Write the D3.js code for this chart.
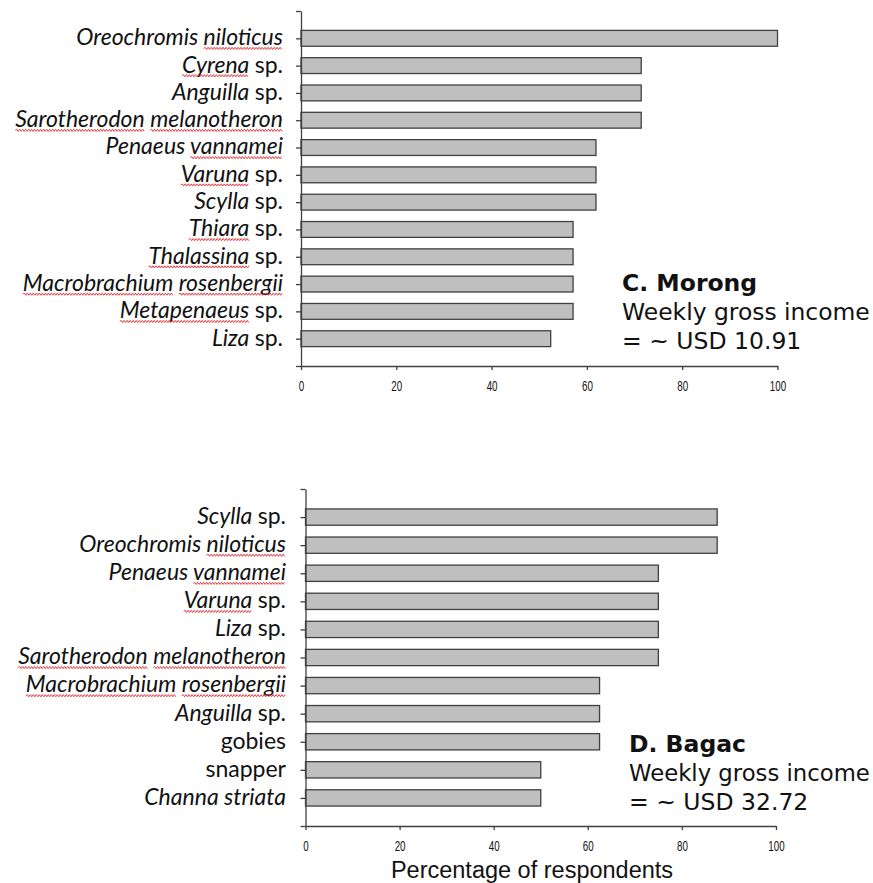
<!DOCTYPE html>
<html>
<head>
<meta charset="utf-8">
<script src="https://cdn.jsdelivr.net/npm/d3@7"></script>
<style>
  body { margin: 0; background: #fff; }
</style>
</head>
<body>
<div id="viz"></div>
<script>
// species names as printed, values = % of respondents
let morongSpecies = ["Oreochromis niloticus", "Cyrena sp.", "Anguilla sp.", "Sarotherodon melanotheron",
  "Penaeus vannamei", "Varuna sp.", "Scylla sp.", "Thiara sp.", "Thalassina sp.",
  "Macrobrachium rosenbergii", "Metapenaeus sp.", "Liza sp."];
let morongValues = [100, 71.4, 71.4, 71.4, 61.9, 61.9, 61.9, 57.1, 57.1, 57.1, 57.1, 52.4];

let bagacSpecies = ["Scylla sp.", "Oreochromis niloticus", "Penaeus vannamei", "Varuna sp.", "Liza sp.",
  "Sarotherodon melanotheron", "Macrobrachium rosenbergii", "Anguilla sp.", "gobies", "snapper", "Channa striata"];
let bagacValues = [87.5, 87.5, 75, 75, 75, 75, 62.5, 62.5, 62.5, 50, 50];

let xTicks = [0, 20, 40, 60, 80, 100];

// words not set in italics, and the words the spell checker marked
let uprightWords = ["sp.", "gobies", "snapper"];
let flaggedWords = ["niloticus", "Cyrena", "Sarotherodon", "melanotheron", "vannamei", "Varuna",
  "Thiara", "Thalassina", "Macrobrachium", "rosenbergii", "Metapenaeus"];

let w = 873;
let h = 883;

let svg = d3.select("#viz")
  .append("svg")
  .attr("width", w)
  .attr("height", h);

let axisColor = "#404040";
let labelFont = "Lato, 'Noto Sans', sans-serif";
let labelSize = 23;
let noteSize = 23.5;

function wavy(x1, x2, y) {
  let p = "M" + x1 + "," + y;
  let up = true;
  for (let xx = x1 + 1.5; xx <= x2; xx += 1.5) {
    p += "L" + xx + "," + (up ? y - 1.1 : y + 1.1);
    up = !up;
  }
  return p;
}

function drawPanel(p) {
  let g = svg.append("g");
  let n = p.species.length;

  let x = d3.scaleLinear().domain([0, 100]).range([p.x0, p.x1]);
  let y = d3.scaleLinear().domain([0, n + 1]).range([p.yTop, p.yBottom]);
  let step = y(1) - y(0);
  let bh = step * 0.58;

  // bars
  g.selectAll(".bar")
    .data(p.species)
    .join("rect")
    .attr("class", "bar")
    .attr("x", x(0))
    .attr("y", (d, i) => y(i + 1) - bh / 2)
    .attr("width", (d, i) => x(p.values[i]) - x(0))
    .attr("height", bh)
    .attr("fill", "#bfbfbf")
    .attr("stroke", axisColor)
    .attr("stroke-width", 1.3);

  // y axis (ticks only, names drawn separately)
  let yAx = g.append("g")
    .attr("transform", `translate(${x(0)},0)`)
    .call(d3.axisLeft(y).tickValues(d3.range(0, n + 2)).tickSize(5).tickSizeOuter(0).tickFormat(""));

  // x axis
  let xAx = g.append("g")
    .attr("transform", `translate(0,${p.yBottom})`)
    .call(d3.axisBottom(x).tickValues(xTicks).tickSize(4).tickSizeOuter(0));

  [yAx, xAx].forEach(a => {
    a.select(".domain").attr("stroke", axisColor).attr("stroke-width", 1.3);
    a.selectAll(".tick line").attr("stroke", axisColor).attr("stroke-width", 1.3);
  });

  xAx.selectAll(".tick text")
    .attr("font-family", "'Liberation Sans', Arial, sans-serif")
    .attr("font-size", 14)
    .attr("fill", "#111")
    .attr("y", 0)
    .attr("dy", "1.8em")
    .attr("transform", "scale(0.7,1)");

  // species names
  p.species.forEach((name, i) => {
    let t = g.append("text")
      .attr("x", p.labelX)
      .attr("y", y(i + 1))
      .attr("dy", "0.3em")
      .attr("text-anchor", "end")
      .attr("font-family", labelFont)
      .attr("font-size", labelSize)
      .attr("fill", "#111");

    let words = name.split(" ");
    let spans = [];
    let pos = 0;
    words.forEach((word, k) => {
      let txt = k < words.length - 1 ? word + " " : word;
      t.append("tspan")
        .attr("font-style", uprightWords.includes(word) ? "normal" : "italic")
        .text(txt);
      spans.push({ word: word, start: pos });
      pos += txt.length;
    });

    // red squiggles under flagged words
    let node = t.node();
    let base = y(i + 1) + labelSize * 0.3;
    spans.filter(s => flaggedWords.includes(s.word)).forEach(s => {
      let x1 = node.getStartPositionOfChar(s.start).x;
      let x2 = node.getEndPositionOfChar(s.start + s.word.length - 1).x;
      g.append("path")
        .attr("d", wavy(x1, x2, base + 3.2))
        .attr("fill", "none")
        .attr("stroke", "#e8262a")
        .attr("stroke-width", 0.9);
    });
  });

  // site title and income note
  p.note.forEach((line, k) => {
    let t = g.append("text")
      .attr("x", p.noteX)
      .attr("y", p.noteY + k * 29)
      .attr("font-family", "'DejaVu Sans', Verdana, sans-serif")
      .attr("font-size", noteSize)
      .attr("font-weight", k == 0 ? "bold" : "normal")
      .attr("fill", "#111")
      .text(line);
    // shrink the long line a bit so it stays on the page
    let room = w - 3 - p.noteX;
    let len = t.node().getComputedTextLength();
    if (len > room) {
      t.attr("font-size", noteSize * room / len);
    }
  });
}

drawPanel({
  species: morongSpecies,
  values: morongValues,
  x0: 301, x1: 777.5,
  yTop: 11, yBottom: 366,
  labelX: 283,
  note: ["C. Morong", "Weekly gross income", "= ~ USD 10.91"],
  noteX: 622, noteY: 291
});

drawPanel({
  species: bagacSpecies,
  values: bagacValues,
  x0: 305.5, x1: 776,
  yTop: 489, yBottom: 826,
  labelX: 286,
  note: ["D. Bagac", "Weekly gross income", "= ~ USD 32.72"],
  noteX: 629, noteY: 752
});

svg.append("text")
  .attr("x", 532)
  .attr("y", 878)
  .attr("text-anchor", "middle")
  .attr("font-family", "'Liberation Sans', Arial, sans-serif")
  .attr("font-size", 23.5)
  .attr("fill", "#111")
  .text("Percentage of respondents");
</script>
</body>
</html>
